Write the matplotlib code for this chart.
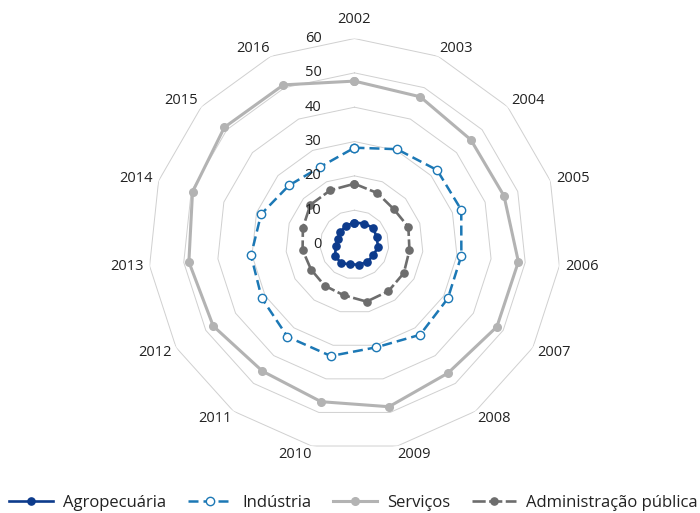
import numpy as np
import matplotlib.pyplot as plt

# Dados (participacao por setor, %)
anos = ['2002', '2003', '2004', '2005', '2006', '2007', '2008', '2009',
        '2010', '2011', '2012', '2013', '2014', '2015', '2016']
agropecuaria = [6.4, 6.7, 7.3, 6.8, 6.9, 6.3, 6.3, 6.0, 5.9, 6.7, 6.5, 5.5, 5.2, 5.5, 6.0]
industria = [28.2, 30.4, 32.4, 32.7, 31.3, 31.4, 32.5, 30.6, 33.2, 33.2, 31.2, 30.3, 28.6, 25.7, 24.7]
servicos = [47.6, 47.1, 45.6, 45.8, 48.0, 47.9, 46.3, 48.3, 46.8, 45.6, 47.5, 48.5, 49.6, 51.0, 50.9]
adm_publica = [17.7, 16.4, 15.4, 16.5, 16.1, 16.6, 16.8, 17.0, 15.1, 14.8, 14.6, 15.2, 15.8, 17.3, 17.3]
niveis = [0, 10, 20, 30, 40, 50, 60]

plt.rcParams['font.family'] = ['Open Sans', 'DejaVu Sans']
cor_texto = '#222222'


def fecha(v):
    # fecha o poligono
    return np.append(v, v[0])


n = len(anos)
theta = np.arange(n) * 2 * np.pi / n

fig = plt.figure(figsize=(7.0, 5.13), dpi=100)
ax = fig.add_axes([0.2121, 0.1218, 0.5886, 0.8031], projection='polar')
ax.set_theta_zero_location('N')
ax.set_theta_direction(-1)
ax.set_ylim(0, niveis[-1])
ax.axis('off')

# Grade poligonal
for lvl in niveis[1:]:
    ax.plot(fecha(theta), [lvl] * (n + 1), color='#d0d0d0', lw=0.7, zorder=1)

# Series
ax.plot(fecha(theta), fecha(agropecuaria), color='#0d3b8c', lw=1.9,
        marker='o', ms=5.2, label='Agropecuária', zorder=3)
ax.plot(fecha(theta), fecha(industria), color='#1c78b5', lw=1.8, ls=(0, (4, 2)),
        marker='o', ms=6, mfc='white', mec='#1c78b5', mew=1.0,
        label='Indústria', zorder=3)
ax.plot(fecha(theta), fecha(servicos), color='#b3b3b3', lw=2.2,
        marker='o', ms=5.5, label='Serviços', zorder=3)
ax.plot(fecha(theta), fecha(adm_publica), color='#6d6d6d', lw=1.9, ls=(0, (5, 1.3)),
        marker='o', ms=5.2, label='Administração pública', zorder=3)

# Rotulos das categorias
for t, lab in zip(theta, anos):
    s, c = np.sin(t), np.cos(t)
    if abs(s) < 0.01:
        ha, dx, dy = 'center', 0, 9 * c + 10.5 * max(c, 0)
    else:
        ha = 'left' if s > 0 else 'right'
        dx, dy = 6 * s * abs(s), 9 * c
    ax.annotate(lab, xy=(t, niveis[-1]), xytext=(dx, dy), textcoords='offset pixels',
                ha=ha, va='center', fontsize=10.5, color=cor_texto,
                annotation_clip=False)

# Rotulos do eixo radial
for lvl in niveis:
    ax.annotate(str(lvl), xy=(0, lvl), xytext=(-33, 0), textcoords='offset pixels',
                ha='right', va='center', fontsize=10.5, color=cor_texto,
                annotation_clip=False, zorder=4)

fig.legend(loc='center', bbox_to_anchor=(0.505, 0.02), ncol=4, frameon=False,
           fontsize=12, handlelength=2.65, columnspacing=1.3, handletextpad=0.6,
           numpoints=1, labelcolor=cor_texto)

fig.savefig('out.png', dpi=100)
